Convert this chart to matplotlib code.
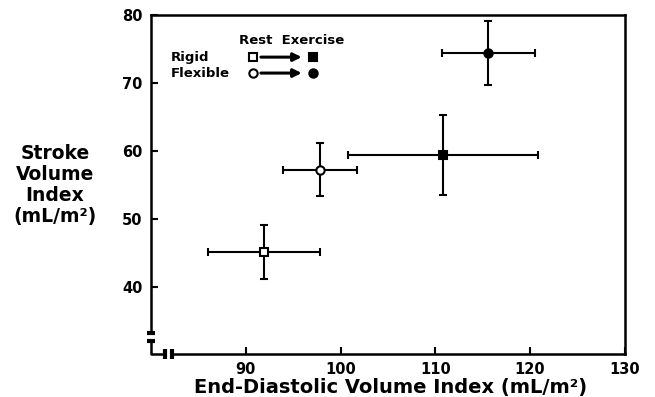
import numpy as np
import matplotlib
matplotlib.use("Agg")
import matplotlib.pyplot as plt

# values
groups = ["Rigid rest", "Flexible rest", "Rigid exercise", "Flexible exercise"]
edvi = [91.9, 97.8, 110.8, 115.6]
edvi_err = [5.9, 3.9, 10.0, 4.9]
svi = [45.2, 57.3, 59.4, 74.4]
svi_err = [3.9, 3.9, 5.9, 4.7]
markers = ["s", "o", "s", "o"]
fills = ["white", "white", "black", "black"]

x_ticks = [90, 100, 110, 120, 130]
y_ticks = [40, 50, 60, 70, 80]

plt.rcParams['font.family'] = ['DejaVu Sans']
plt.rcParams['font.weight'] = 'bold'

fig = plt.figure(figsize=(6.55, 3.97), dpi=100)
ax = fig.add_axes([0.2305, 0.108, 0.7235, 0.854])

for i in range(len(groups)):
    ax.errorbar(edvi[i], svi[i], xerr=edvi_err[i], yerr=svi_err[i],
                fmt=markers[i], color="black", mfc=fills[i], mec="black",
                ms=6, mew=1.5, elinewidth=1.5, capsize=3, capthick=1.5)

ax.set_xlim(80, 130)
ax.set_ylim(30.2, 80)
ax.set_xticks(x_ticks)
ax.set_yticks(y_ticks)
ax.tick_params(direction="in", length=5, width=1.5, labelsize=10.5, pad=6)
for lab in ax.get_xticklabels() + ax.get_yticklabels():
    lab.set_fontweight("bold")

# box with axis breaks drawn by hand
for s in ["left", "bottom"]:
    ax.spines[s].set_visible(False)
ax.spines["top"].set_linewidth(1.8)
ax.spines["right"].set_linewidth(1.8)
kw = dict(transform=ax.transAxes, color="black", clip_on=False)
ax.plot([0, 0], [1, 0.062], lw=1.8, **kw)
ax.plot([0, 0, 0.030], [0.038, 0, 0], lw=1.8, **kw)
ax.plot([0.044, 1], [0, 0], lw=1.8, **kw)
for yb in [0.062, 0.038]:
    ax.plot([-0.009, 0.009], [yb, yb], lw=3, solid_capstyle="butt", **kw)
for xb in [0.030, 0.044]:
    ax.plot([xb, xb], [-0.014, 0.014], lw=3, solid_capstyle="butt", **kw)

# legend drawn in axes space
ax.text(0.297, 0.924, "Rest  Exercise", transform=ax.transAxes, ha="center",
        va="center", fontsize=9.5, fontweight="bold")
ax.text(0.042, 0.876, "Rigid", transform=ax.transAxes, ha="left",
        va="center", fontsize=9.5, fontweight="bold")
ax.text(0.042, 0.829, "Flexible", transform=ax.transAxes, ha="left",
        va="center", fontsize=9.5, fontweight="bold")
for yy, m in [(0.876, "s"), (0.829, "o")]:
    ax.plot(0.215, yy, m, mfc="white", mec="black", ms=6, mew=1.5, **kw)
    ax.plot(0.342, yy, m, mfc="black", mec="black", ms=6, mew=1.5, **kw)
    ax.annotate("", xy=(0.318, yy), xytext=(0.232, yy), xycoords="axes fraction",
                arrowprops=dict(arrowstyle="-|>", color="black", lw=2.2,
                                mutation_scale=12, shrinkA=0, shrinkB=0))

fig.text(0.597, 0.01, "End-Diastolic Volume Index (mL/m\u00b2)", ha="center",
         va="baseline", fontsize=14, fontweight="bold")
fig.text(0.084, 0.534, "Stroke\nVolume\nIndex\n(mL/m\u00b2)", ha="center",
         va="center", fontsize=13.5, fontweight="bold", linespacing=1.15)

fig.savefig("out.png", dpi=100)
